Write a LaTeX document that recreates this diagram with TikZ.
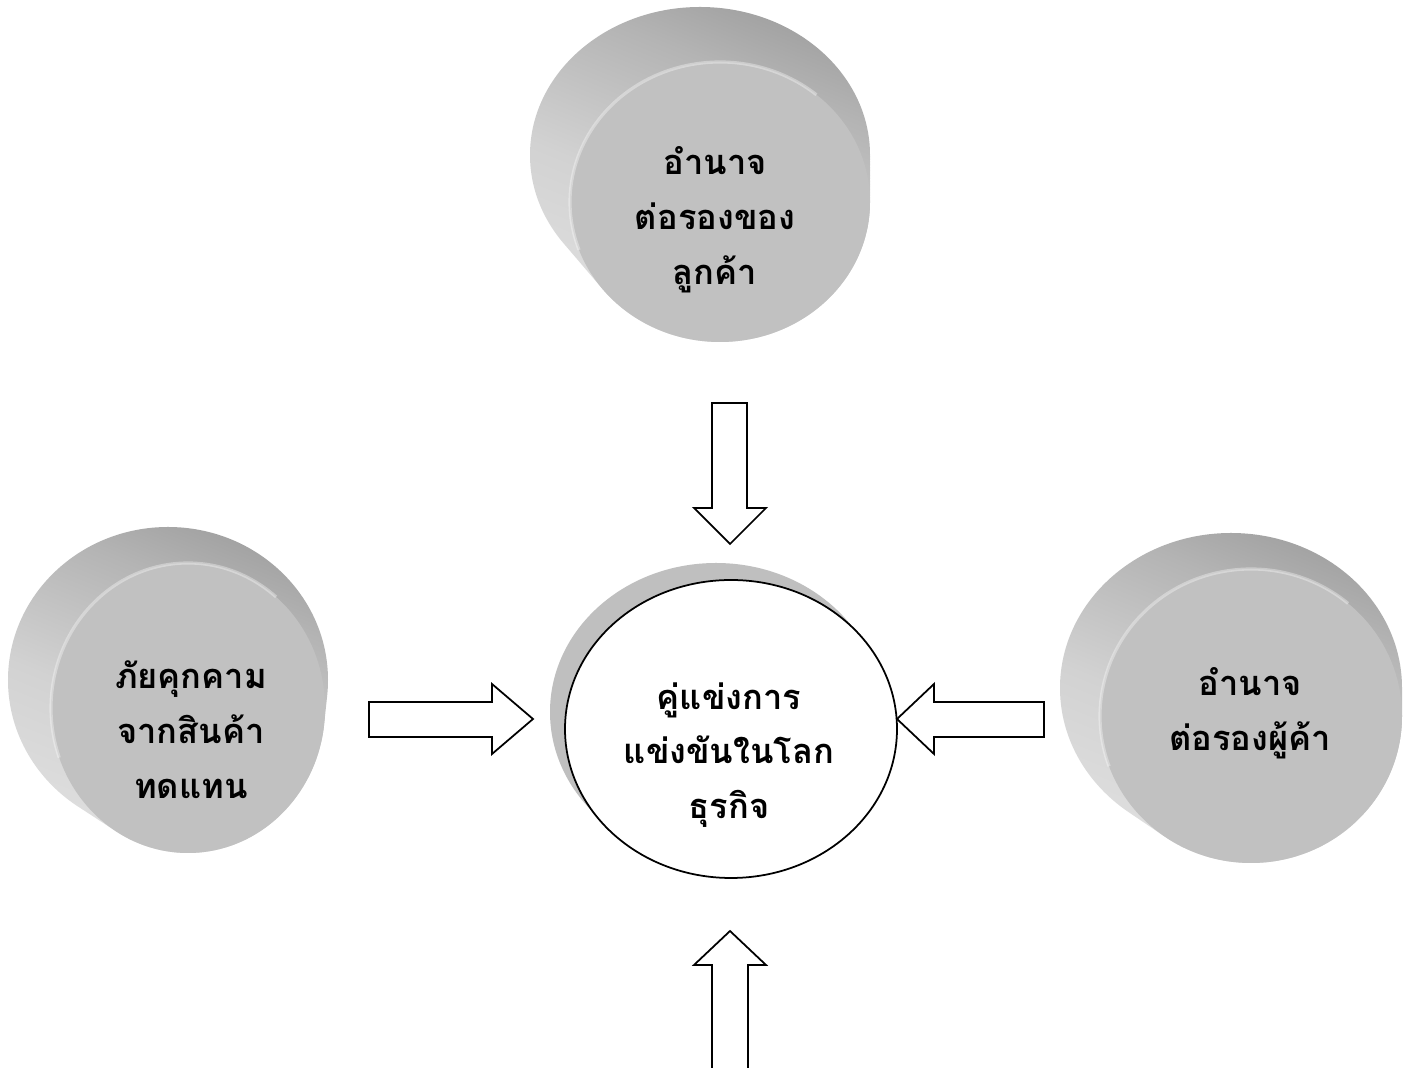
\documentclass[tikz,border=0pt]{standalone}
\usepackage{fontspec}
\newfontfamily\thaifont[Script=Thai]{Loma}
\usetikzlibrary{calc}
\definecolor{facegray}{RGB}{193,193,193}
\definecolor{shadowgray}{RGB}{191,191,191}
\definecolor{sideA}{RGB}{226,226,226}
\definecolor{sideB}{RGB}{210,210,210}
\definecolor{sideC}{RGB}{180,180,180}
\definecolor{sideD}{RGB}{158,158,158}
\definecolor{sideE}{RGB}{168,168,168}
\pgfdeclarehorizontalshading{cylside}{100bp}{color(0bp)=(sideA); color(20bp)=(sideA); color(45bp)=(sideB); color(66bp)=(sideC); color(78bp)=(sideD); color(90bp)=(sideE); color(100bp)=(sideE)}
\tikzset{
  blockarrow/.style={draw=black, line width=0.5pt, fill=white, line join=miter},
  thaitext/.style={align=center, font=\thaifont\bfseries\fontsize{9.8}{15.6}\selectfont, inner sep=0pt},
}
% front: cx, cy, rx, ry ; back: bx, by, brx, bry
\newcommand\drawcyl[8]{%
  \shade[shading=cylside, shading angle=68, nonzero rule]
    \foreach \k in {0,...,30}{
      ({#5+(#1-(#5))*\k/30},{#6+(#2-(#6))*\k/30})
      ellipse[x radius={#7+(#3-(#7))*\k/30}, y radius={#8+(#4-(#8))*\k/30}]
    };
  \fill[facegray] (#1,#2) ellipse[x radius=#3, y radius=#4];
  \draw[white, opacity=.35, line width=0.9pt]
    ($(#1,#2)+(50:#3 and #4)$)
    arc[start angle=50, delta angle=150, x radius=#3, y radius=#4];
}
\begin{document}
\begin{tikzpicture}
\clip (0,0) rectangle (14.11,10.68);
\fill[white] (0,0) rectangle (14.11,10.68);

% cylinders
\drawcyl{7.20}{8.66}{1.50}{1.40}{7.00}{9.13}{1.70}{1.48}
\drawcyl{1.88}{3.60}{1.37}{1.45}{1.68}{3.88}{1.60}{1.53}
\drawcyl{12.51}{3.52}{1.51}{1.47}{12.31}{3.80}{1.71}{1.55}

\node[thaitext] (buyers) at (7.15,8.48) {อำนาจ\\ต่อรองของ\\ลูกค้า};
\node[thaitext] (subst) at (1.91,3.38) {ภัยคุกคาม\\จากสินค้า\\ทดแทน};
\node[thaitext] (suppliers) at (12.50,3.55) {อำนาจ\\ต่อรองผู้ค้า};

% centre
\fill[shadowgray] (7.16,3.56) ellipse[x radius=1.66, y radius=1.49];
\draw[fill=white, line width=0.5pt] (7.31,3.39) ellipse[x radius=1.66, y radius=1.49];
\node[thaitext] (rivals) at (7.29,3.13) {คู่แข่งการ\\แข่งขันในโลก\\ธุรกิจ};

% block arrows
\draw[blockarrow] (7.12,6.65) -- (7.47,6.65) -- (7.47,5.60) -- (7.66,5.60) -- (7.30,5.24) -- (6.94,5.60) -- (7.12,5.60) -- cycle;
\draw[blockarrow] (3.69,3.66) -- (4.92,3.66) -- (4.92,3.84) -- (5.33,3.49) -- (4.92,3.14) -- (4.92,3.31) -- (3.69,3.31) -- cycle;
\draw[blockarrow] (10.44,3.66) -- (9.34,3.66) -- (9.34,3.84) -- (8.97,3.49) -- (9.34,3.14) -- (9.34,3.31) -- (10.44,3.31) -- cycle;
\draw[blockarrow] (7.12,-0.20) -- (7.12,1.03) -- (6.94,1.03) -- (7.30,1.37) -- (7.66,1.03) -- (7.48,1.03) -- (7.48,-0.20);
\end{tikzpicture}
\end{document}
